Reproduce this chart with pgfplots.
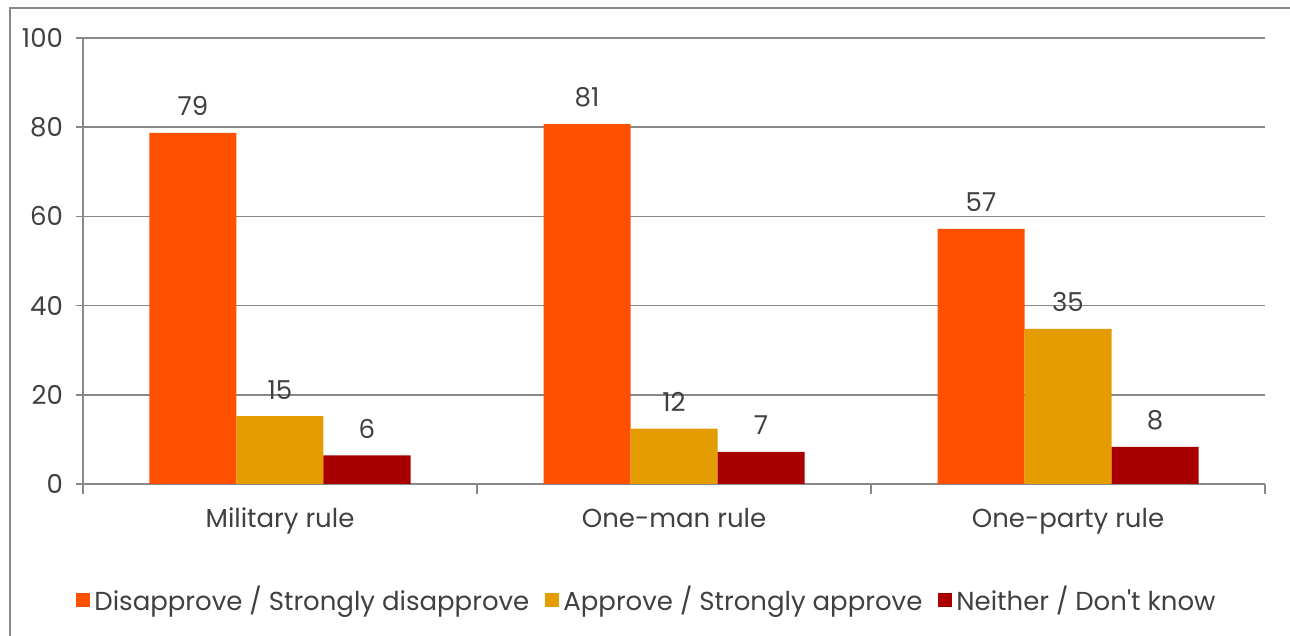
\documentclass[border=0pt]{standalone}
\usepackage{fontspec}
\setmainfont{Poppins}
\usepackage{pgfplots}
\pgfplotsset{compat=1.18}
\definecolor{cDis}{HTML}{FF5000}
\definecolor{cApp}{HTML}{E59C00}
\definecolor{cNei}{HTML}{A80000}
\definecolor{cGrid}{HTML}{888888}
\definecolor{cTxt}{HTML}{404040}
\begin{document}
\begin{tikzpicture}
\path[use as bounding box] (-41.5pt,-76pt) rectangle (603.5pt,242pt);
\draw[cGrid, line width=0.6pt] (-36.5pt,-80pt) -- (-36.5pt,238pt) -- (610pt,238pt);
\begin{axis}[
  at={(0pt,0pt)}, anchor=south west,
  scale only axis,
  width=591pt, height=223pt,
  ybar=0pt, bar width=43.5pt,
  xmin=-0.5, xmax=2.5,
  ymin=0, ymax=100,
  xtick={0,1,2},
  xticklabels={Military rule, One-man rule, One-party rule},
  minor xtick={-0.5,0.5,1.5,2.5},
  ytick={0,20,40,60,80,100},
  major x tick style={draw=none},
  minor tick length=5pt,
  major tick length=3.5pt,
  tick align=outside,
  tick style={cGrid, line width=0.8pt},
  axis x line*=bottom, axis y line*=left,
  axis line style={cGrid, line width=0.8pt, -},
  ymajorgrids, grid style={cGrid, line width=0.8pt},
  /pgf/number format/assume math mode=true,
  font=\fontsize{13}{15}\selectfont,
  tick label style={text=cTxt},
  xticklabel style={yshift=-5pt},
  yticklabel style={xshift=-3pt},
  nodes near coords,
  nodes near coords style={text=cTxt, anchor=south, yshift=5pt, /pgf/number format/precision=0, /pgf/number format/fixed},
  legend columns=-1,
  legend style={draw=none, at={(0.478,-0.26)}, anchor=center, text=cTxt,
    /tikz/every even column/.append style={column sep=6pt}},
  legend image code/.code={\fill[#1] (0pt,-3.5pt) rectangle (7pt,3.5pt);},
]
\addplot[fill=cDis, draw=none] coordinates {(0,78.7) (1,80.7) (2,57.2)};
\addplot[fill=cApp, draw=none] coordinates {(0,15.2) (1,12.4) (2,34.8)};
\addplot[fill=cNei, draw=none] coordinates {(0,6.4) (1,7.2) (2,8.3)};
\legend{Disapprove / Strongly disapprove, Approve / Strongly approve, Neither / Don\textquotesingle t know}
\end{axis}
\end{tikzpicture}
\end{document}
